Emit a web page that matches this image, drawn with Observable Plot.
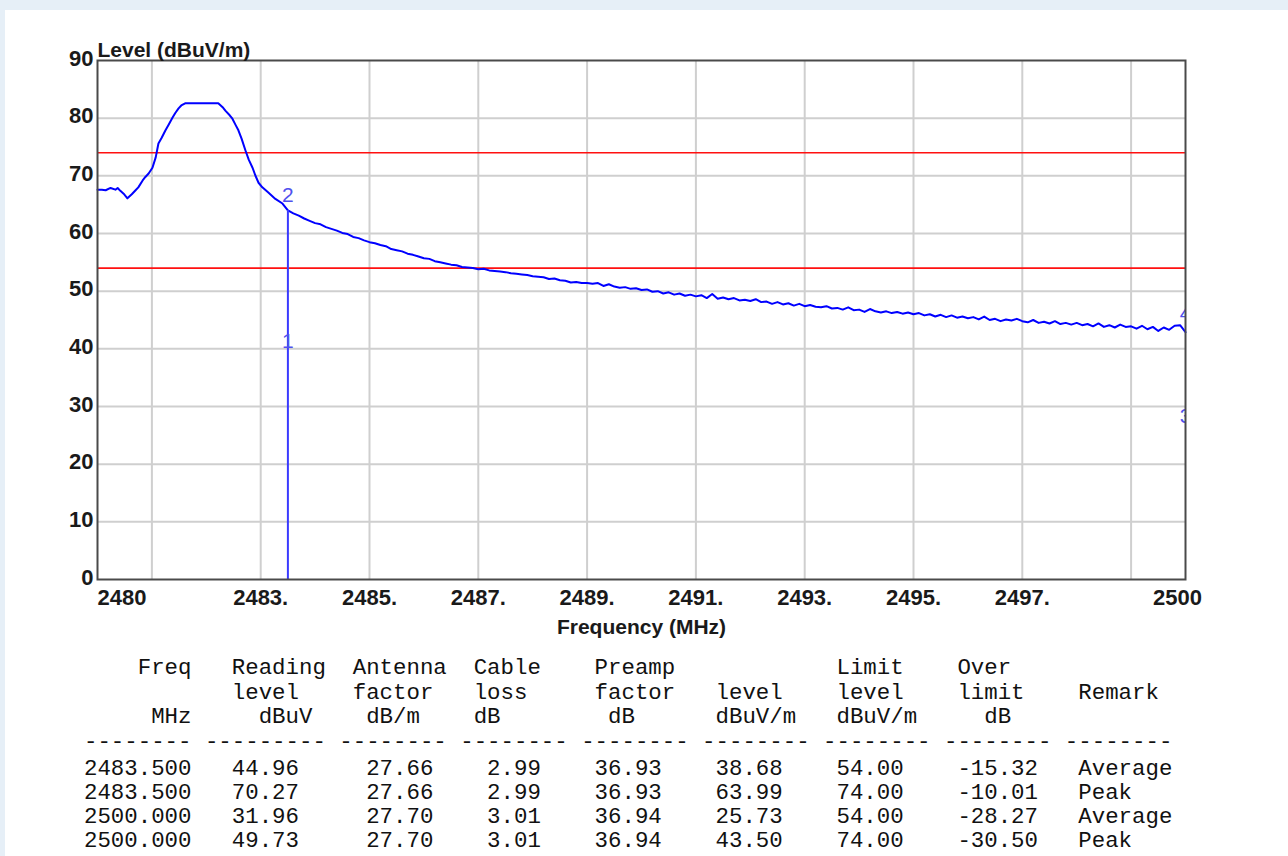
<!DOCTYPE html>
<html>
<head>
<meta charset="utf-8">
<script src="https://cdn.jsdelivr.net/npm/d3@7"></script>
<script src="https://cdn.jsdelivr.net/npm/@observablehq/plot@0.6"></script>
<style>
  html, body { margin: 0; padding: 0; }
  body { width: 1288px; height: 856px; background: #e6eff7; position: relative; overflow: hidden; }
  #sheet { position: absolute; left: 5px; top: 10px; width: 1283px; height: 846px; background: #fff; }
  #chart { position: absolute; left: 0; top: 0; }
  pre.tbl { position: absolute; left: 84px; margin: 0; font-family: "Liberation Mono", "DejaVu Sans Mono", monospace; font-size: 22.4px; color: #111; }
  #thead { top: 656px; line-height: 24.6px; }
  #tbody { top: 757px; line-height: 24px; }
</style>
</head>
<body>
<div id="sheet"></div>
<div id="chart"></div>
<pre class="tbl" id="thead"></pre>
<pre class="tbl" id="tbody"></pre>
<script>
// ---- trace ----
const traceFreqA = [2480.00, 2480.08, 2480.15, 2480.24, 2480.33, 2480.37, 2480.42, 2480.48, 2480.55, 2480.63,
  2480.70, 2480.75, 2480.83, 2480.88, 2480.94, 2481.01, 2481.07, 2481.12, 2481.18, 2481.25,
  2481.31, 2481.38, 2481.43, 2481.49, 2481.54, 2481.62, 2482.22, 2482.30, 2482.35, 2482.43,
  2482.48, 2482.54, 2482.59, 2482.65, 2482.72, 2482.78, 2482.85, 2482.90, 2482.96, 2483.03,
  2483.14, 2483.27, 2483.40, 2483.50];
const traceLevelA = [67.6, 67.6, 67.5, 67.9, 67.6, 67.9, 67.4, 66.9, 66.1, 66.8,
  67.5, 68.0, 69.2, 69.8, 70.4, 71.4, 73.2, 75.6, 76.6, 77.9,
  78.9, 80.1, 80.9, 81.7, 82.2, 82.6, 82.6, 81.9, 81.3, 80.5,
  79.9, 78.8, 77.9, 76.4, 74.4, 72.8, 71.4, 70.1, 68.8, 68.0,
  67.1, 66.0, 65.2, 64.0];
const traceFreqB = [
  2483.6, 2483.7, 2483.8, 2483.9, 2484.0, 2484.1, 2484.2, 2484.3, 2484.4, 2484.5,
  2484.6, 2484.7, 2484.8, 2484.9, 2485.0, 2485.1, 2485.2, 2485.3, 2485.4, 2485.5,
  2485.6, 2485.7, 2485.8, 2485.9, 2486.0, 2486.1, 2486.2, 2486.3, 2486.4, 2486.5,
  2486.6, 2486.7, 2486.8, 2486.9, 2487.0, 2487.1, 2487.2, 2487.3, 2487.4, 2487.5,
  2487.6, 2487.7, 2487.8, 2487.9, 2488.0, 2488.1, 2488.2, 2488.3, 2488.4, 2488.5,
  2488.6, 2488.7, 2488.8, 2488.9, 2489.0, 2489.1, 2489.2, 2489.3, 2489.4, 2489.5,
  2489.6, 2489.7, 2489.8, 2489.9, 2490.0, 2490.1, 2490.2, 2490.3, 2490.4, 2490.5,
  2490.6, 2490.7, 2490.8, 2490.9, 2491.0, 2491.1, 2491.2, 2491.3, 2491.4, 2491.5,
  2491.6, 2491.7, 2491.8, 2491.9, 2492.0, 2492.1, 2492.2, 2492.3, 2492.4, 2492.5,
  2492.6, 2492.7, 2492.8, 2492.9, 2493.0, 2493.1, 2493.2, 2493.3, 2493.4, 2493.5,
  2493.6, 2493.7, 2493.8, 2493.9, 2494.0, 2494.1, 2494.2, 2494.3, 2494.4, 2494.5,
  2494.6, 2494.7, 2494.8, 2494.9, 2495.0, 2495.1, 2495.2, 2495.3, 2495.4, 2495.5,
  2495.6, 2495.7, 2495.8, 2495.9, 2496.0, 2496.1, 2496.2, 2496.3, 2496.4, 2496.5,
  2496.6, 2496.7, 2496.8, 2496.9, 2497.0, 2497.1, 2497.2, 2497.3, 2497.4, 2497.5,
  2497.6, 2497.7, 2497.8, 2497.9, 2498.0, 2498.1, 2498.2, 2498.3, 2498.4, 2498.5,
  2498.6, 2498.7, 2498.8, 2498.9, 2499.0, 2499.1, 2499.2, 2499.3, 2499.4, 2499.5,
  2499.6, 2499.7, 2499.8, 2499.9, 2500.0];
const traceLevelB = [
  63.5, 63.1, 62.6, 62.2, 61.8, 61.6, 61.1, 60.8, 60.5, 60.1,
  59.9, 59.4, 59.2, 58.8, 58.5, 58.3, 58.0, 57.8, 57.3, 57.1,
  56.9, 56.5, 56.3, 56.0, 55.7, 55.6, 55.2, 55.0, 54.8, 54.6,
  54.5, 54.2, 54.1, 54.0, 53.8, 53.9, 53.6, 53.5, 53.4, 53.3,
  53.1, 53.0, 52.9, 52.8, 52.6, 52.5, 52.4, 52.1, 52.2, 51.9,
  51.8, 51.5, 51.6, 51.4, 51.4, 51.3, 51.4, 50.9, 51.2, 50.8,
  50.6, 50.7, 50.4, 50.5, 50.2, 50.3, 49.9, 50.0, 49.6, 49.8,
  49.4, 49.6, 49.2, 49.4, 49.1, 49.3, 48.8, 49.5, 48.7, 48.9,
  48.6, 48.8, 48.4, 48.5, 48.3, 48.6, 48.1, 48.2, 47.8, 48.1,
  47.7, 47.9, 47.5, 47.8, 47.4, 47.6, 47.3, 47.2, 47.4, 47.0,
  47.1, 46.8, 47.2, 46.7, 46.8, 46.4, 46.9, 46.5, 46.3, 46.5,
  46.2, 46.4, 46.1, 46.3, 46.0, 46.2, 45.8, 46.0, 45.6, 45.9,
  45.5, 45.8, 45.4, 45.6, 45.3, 45.5, 45.1, 45.6, 45.0, 45.2,
  44.8, 45.1, 44.9, 45.2, 44.8, 44.6, 45.0, 44.5, 44.7, 44.4,
  44.8, 44.3, 44.5, 44.2, 44.5, 44.1, 44.3, 43.9, 44.4, 43.8,
  44.1, 43.7, 44.2, 43.8, 43.9, 43.5, 44.0, 43.4, 43.8, 43.1,
  43.7, 43.3, 44.0, 44.1, 42.9];

// ---- limits, markers, ticks ----
const limitLevels = [54, 74];
const markerLabels = ["1", "2", "3", "4"];
const yTicks = [0, 10, 20, 30, 40, 50, 60, 70, 80, 90];
const yGrid = [10, 20, 30, 40, 50, 60, 70, 80];
const xGrid = [2481, 2483, 2485, 2487, 2489, 2491, 2493, 2495, 2497, 2499];
const xMidTicks = [2483, 2485, 2487, 2489, 2491, 2493, 2495, 2497];
const xMidLabels = ["2483.", "2485.", "2487.", "2489.", "2491.", "2493.", "2495.", "2497."];
const xEndTicks = [2480, 2500];

// ---- result table ----
const tFreq = ["2483.500", "2483.500", "2500.000", "2500.000"];
const tReading = ["44.96", "70.27", "31.96", "49.73"];
const tAntenna = ["27.66", "27.66", "27.70", "27.70"];
const tCable = ["2.99", "2.99", "3.01", "3.01"];
const tPreamp = ["36.93", "36.93", "36.94", "36.94"];
const tLevel = ["38.68", "63.99", "25.73", "43.50"];
const tLimit = ["54.00", "74.00", "54.00", "74.00"];
const tOver = ["-15.32", "-10.01", "-28.27", "-30.50"];
const tRemark = ["Average", "Peak", "Average", "Peak"];

const traceFreq = [...traceFreqA, ...traceFreqB];
const traceLevel = [...traceLevelA, ...traceLevelB];
const trace = traceFreq.map((f, i) => ({f, v: traceLevel[i]}));
const markers = tFreq.map((f, i) => ({f: +f, v: +tLevel[i], label: markerLabels[i]}));
const peakMarker = markers.filter(d => d.label === "2");

const font = '"Liberation Sans", Arial, Helvetica, sans-serif';
const chart = Plot.plot({
  width: 1288,
  height: 645,
  marginLeft: 97,
  marginRight: 103,
  marginTop: 60,
  marginBottom: 66,
  x: {domain: [2480, 2500]},
  y: {domain: [0, 90]},
  style: {fontFamily: font, background: "transparent", color: "#1a1a1a", overflow: "visible"},
  marks: [
    Plot.gridX(xGrid, {stroke: "#cfcfcf", strokeOpacity: 1, strokeWidth: 2}),
    Plot.gridY(yGrid, {stroke: "#cfcfcf", strokeOpacity: 1, strokeWidth: 2}),
    Plot.ruleY(limitLevels, {stroke: "#ff1010", strokeWidth: 1.6}),
    Plot.line(trace, {x: "f", y: "v", stroke: "#0000ff", strokeWidth: 2}),
    Plot.ruleX(peakMarker, {x: "f", y1: 0, y2: "v", stroke: "#3a3aff", strokeWidth: 2}),
    Plot.text(markers, {x: "f", y: "v", text: "label", dy: -15, fill: "#5050ee", fontSize: 21, clip: true}),
    Plot.frame({stroke: "#4a4a4a", strokeWidth: 2}),
    Plot.axisY(yTicks, {tickSize: 0, tickPadding: 4, fontSize: 22, fontWeight: "bold", label: null, dy: -2}),
    Plot.axisX(xMidTicks, {tickSize: 0, tickPadding: 10, fontSize: 22, fontWeight: "bold", label: null,
      tickFormat: (d) => xMidLabels[xMidTicks.indexOf(d)]}),
    Plot.axisX([xEndTicks[0]], {tickSize: 0, tickPadding: 10, fontSize: 22, fontWeight: "bold", label: null, textAnchor: "start", tickFormat: d => String(d)}),
    Plot.axisX([xEndTicks[1]], {tickSize: 0, tickPadding: 10, fontSize: 22, fontWeight: "bold", label: null, dx: -8, tickFormat: d => String(d)}),
    Plot.text(["Level (dBuV/m)"], {frameAnchor: "top-left", textAnchor: "start", lineAnchor: "bottom", dy: -4, fontSize: 21, fontWeight: "bold", fill: "#1a1a1a"}),
    Plot.text(["Frequency (MHz)"], {frameAnchor: "bottom", lineAnchor: "middle", dy: 48, fontSize: 21, fontWeight: "bold", fill: "#1a1a1a"})
  ]
});
document.getElementById("chart").appendChild(chart);

// build fixed-width table
function line(parts) {
  let s = "";
  for (const [col, txt] of parts) {
    if (s.length < col) s = s.padEnd(col, " ");
    s += txt;
  }
  return s;
}
const header = [
  line([[4, "Freq"], [11, "Reading"], [20, "Antenna"], [29, "Cable"], [38, "Preamp"], [56, "Limit"], [65, "Over"]]),
  line([[11, "level"], [20, "factor"], [29, "loss"], [38, "factor"], [47, "level"], [56, "level"], [65, "limit"], [74, "Remark"]]),
  line([[5, "MHz"], [13, "dBuV"], [21, "dB/m"], [29, "dB"], [39, "dB"], [47, "dBuV/m"], [56, "dBuV/m"], [67, "dB"]]),
  line([[0, "--------"], [9, "---------"], [19, "--------"], [28, "--------"], [37, "--------"], [46, "--------"], [55, "--------"], [64, "--------"], [73, "--------"]])
];
const rows = tFreq.map((f, i) => line([[0, f], [11, tReading[i]], [21, tAntenna[i]], [30, tCable[i]], [38, tPreamp[i]], [47, tLevel[i]], [56, tLimit[i]], [65, tOver[i]], [74, tRemark[i]]]));
document.getElementById("thead").textContent = header.join("\n");
document.getElementById("tbody").textContent = rows.join("\n");
</script>
</body>
</html>
